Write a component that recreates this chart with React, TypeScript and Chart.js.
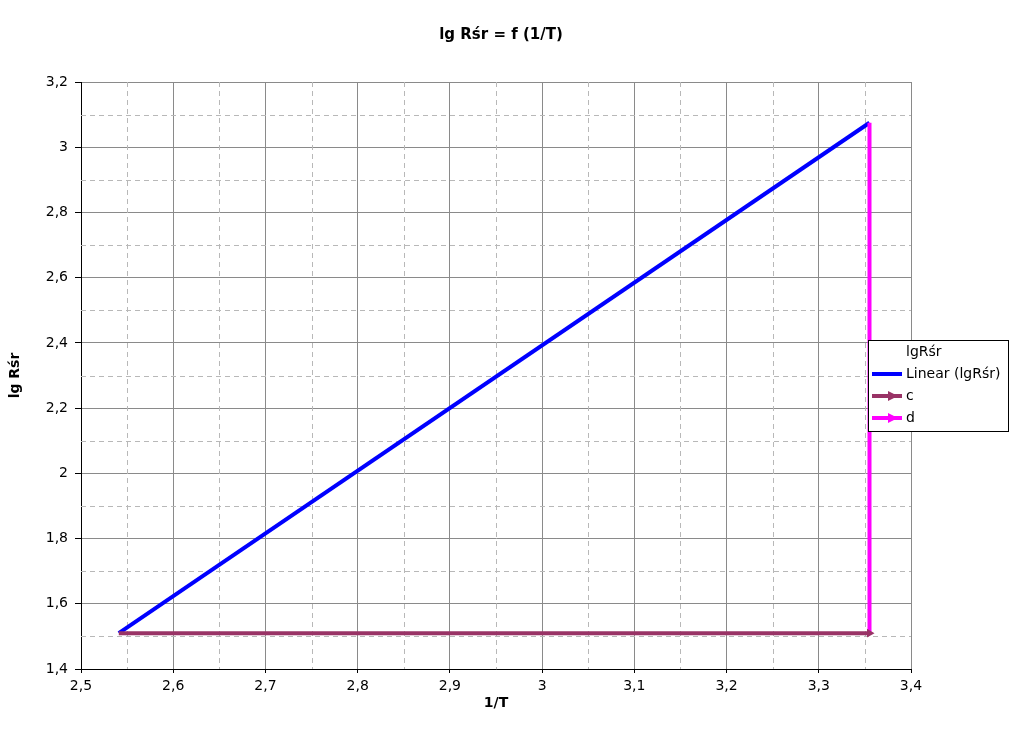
import React, { useEffect, useRef } from "react";
import { Chart, registerables } from "chart.js";

Chart.register(...registerables);

// ---- data ----
const chartTitle = "lg Rśr = f (1/T)";
const xTitle = "1/T";
const yTitle = "lg Rśr";
const seriesNames = ["lgRśr", "Linear (lgRśr)", "c", "d"];
const seriesColors = ["#ffffff", "#0000ff", "#993366", "#ff00ff"];

const linearX = [2.541, 3.355];
const linearY = [1.51, 3.075];
const cX = [2.541, 3.355];
const cY = [1.51, 1.51];
const dX = [3.355, 3.355];
const dY = [1.51, 3.075];

const xMin = 2.5, xMax = 3.4, xStep = 0.1;
const yMin = 1.4, yMax = 3.2, yStep = 0.2;
const xMinor = [2.55, 2.65, 2.75, 2.85, 2.95, 3.05, 3.15, 3.25, 3.35];
const yMinor = [1.5, 1.7, 1.9, 2.1, 2.3, 2.5, 2.7, 2.9, 3.1];

const FONT = "'DejaVu Sans', sans-serif";

const toPts = (xs: number[], ys: number[]) => xs.map((x, i) => ({ x, y: ys[i] }));
const fmt = (v: number) => String(Number(v.toFixed(2))).replace(".", ",");

const minorGridPlugin = {
  id: "minorGrid",
  beforeDatasetsDraw(chart: any) {
    const { ctx, chartArea } = chart;
    const xs = chart.scales.x;
    const ys = chart.scales.y;
    ctx.save();
    ctx.strokeStyle = "#b8b8b8";
    ctx.lineWidth = 1;
    ctx.setLineDash([5, 4]);
    xMinor.forEach((v) => {
      const px = Math.round(xs.getPixelForValue(v)) + 0.5;
      ctx.beginPath();
      ctx.moveTo(px, chartArea.top);
      ctx.lineTo(px, chartArea.bottom);
      ctx.stroke();
    });
    yMinor.forEach((v) => {
      const py = Math.round(ys.getPixelForValue(v)) + 0.5;
      ctx.beginPath();
      ctx.moveTo(chartArea.left, py);
      ctx.lineTo(chartArea.right, py);
      ctx.stroke();
    });
    ctx.restore();
  },
};

const textPlugin = {
  id: "texts",
  afterDraw(chart: any) {
    const { ctx } = chart;
    ctx.save();
    // title
    ctx.fillStyle = "#000";
    ctx.font = `bold 15px ${FONT}`;
    ctx.textAlign = "center";
    ctx.textBaseline = "middle";
    ctx.fillText(chartTitle, 501, 35);

    // legend
    const bx = 868, by = 340, bw = 140, bh = 91;
    ctx.fillStyle = "#fff";
    ctx.fillRect(bx, by, bw, bh);
    ctx.strokeStyle = "#000";
    ctx.lineWidth = 1;
    ctx.strokeRect(bx + 0.5, by + 0.5, bw, bh);
    ctx.font = `14px ${FONT}`;
    ctx.textAlign = "left";
    seriesNames.forEach((name, i) => {
      const cy = by + 12 + i * 22;
      if (i > 0) {
        ctx.strokeStyle = seriesColors[i];
        ctx.lineWidth = 4;
        ctx.beginPath();
        ctx.moveTo(bx + 4, cy);
        ctx.lineTo(bx + 34, cy);
        ctx.stroke();
        if (i > 1) {
          ctx.fillStyle = seriesColors[i];
          ctx.beginPath();
          ctx.moveTo(bx + 20, cy - 5);
          ctx.lineTo(bx + 30, cy);
          ctx.lineTo(bx + 20, cy + 5);
          ctx.closePath();
          ctx.fill();
        }
      }
      ctx.fillStyle = "#000";
      ctx.fillText(name, bx + 38, cy);
    });
    ctx.restore();
  },
};

export default function App() {
  const ref = useRef<HTMLCanvasElement | null>(null);
  useEffect(() => {
    document.body.style.margin = "0";
    const canvas = ref.current;
    if (!canvas) return;
    const chart = new Chart(canvas, {
      type: "scatter",
      data: {
        datasets: [
          {
            label: seriesNames[0],
            data: [],
            showLine: false,
            pointRadius: 0,
          },
          {
            label: seriesNames[1],
            data: toPts(linearX, linearY),
            showLine: true,
            borderColor: seriesColors[1],
            backgroundColor: seriesColors[1],
            borderWidth: 4,
            pointRadius: 0,
            order: 3,
          },
          {
            label: seriesNames[2],
            data: toPts(cX, cY),
            showLine: true,
            borderColor: seriesColors[2],
            backgroundColor: seriesColors[2],
            borderWidth: 4,
            pointStyle: "triangle",
            rotation: 90,
            pointRadius: [0, 5],
            pointBorderWidth: 0,
            order: 1,
          },
          {
            label: seriesNames[3],
            data: toPts(dX, dY),
            showLine: true,
            borderColor: seriesColors[3],
            backgroundColor: seriesColors[3],
            borderWidth: 4,
            pointRadius: 0,
            order: 2,
          },
        ],
      } as any,
      options: {
        animation: false,
        responsive: true,
        maintainAspectRatio: false,
        layout: { padding: { top: 82, right: 99, left: 0, bottom: 0 } },
        plugins: {
          legend: { display: false },
          tooltip: { enabled: false },
          title: { display: false },
        },
        scales: {
          x: {
            type: "linear",
            min: xMin,
            max: xMax,
            afterFit: (s: any) => {
              s.height = 68;
            },
            ticks: {
              stepSize: xStep,
              color: "#000",
              font: { family: FONT, size: 14 },
              padding: 5,
              maxRotation: 0,
              callback: (v: any) => fmt(Number(v)),
            },
            grid: {
              color: "#8a8a8a",
              lineWidth: 1,
              tickLength: 4,
              tickColor: "#000",
            },
            border: { display: true, color: "#000", width: 1 },
            title: {
              display: true,
              text: xTitle,
              color: "#000",
              font: { family: FONT, size: 14, weight: "bold" },
              padding: { top: 0, bottom: 25 },
            },
          },
          y: {
            type: "linear",
            min: yMin,
            max: yMax,
            afterFit: (s: any) => {
              s.width = 81;
            },
            ticks: {
              stepSize: yStep,
              color: "#000",
              font: { family: FONT, size: 14 },
              padding: 7,
              callback: (v: any) => fmt(Number(v)),
            },
            grid: {
              color: "#8a8a8a",
              lineWidth: 1,
              tickLength: 6,
              tickColor: "#000",
            },
            border: { display: true, color: "#000", width: 1 },
            title: {
              display: true,
              text: yTitle,
              color: "#000",
              font: { family: FONT, size: 14, weight: "bold" },
              padding: { top: 7, bottom: 0 },
            },
          },
        },
      } as any,
      plugins: [minorGridPlugin, textPlugin],
    });
    return () => chart.destroy();
  }, []);
  return (
    <div style={{ position: "fixed", left: 0, top: 0, width: 1010, height: 737, background: "#fff" }}>
      <canvas ref={ref} />
    </div>
  );
}
